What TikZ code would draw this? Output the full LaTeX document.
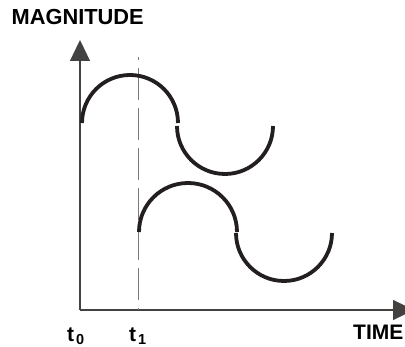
\documentclass[tikz,border=0pt]{standalone}
\usepackage{fontspec}
\setmainfont{Liberation Sans}
\usepackage{xcolor}
\usetikzlibrary{arrows.meta}
\definecolor{ink}{HTML}{231F20}
\tikzset{axis/.style={line width=1.2pt,draw=ink!85,-{Triangle[width=20pt,length=21pt]}},
  wave/.style={line width=3.8pt,draw=ink},mark1/.style={line width=1pt,draw=ink!60,dash pattern=on 32pt off 8pt,dash phase=29pt},
  lbl/.style={inner sep=0pt,anchor=base west,font=\fontsize{21}{21}\selectfont\bfseries}}
\newcommand{\tsub}[1]{t\hspace{2pt}\raisebox{-3.3pt}{\fontsize{14.5}{14.5}\selectfont\bfseries #1}}

\begin{document}
\begin{tikzpicture}[x=1pt,y=1pt]
\useasboundingbox (0,0) rectangle (405,347);
\coordinate (o) at (80,37); \coordinate (ytip) at (80,307); \coordinate (xtip) at (414,37);
\coordinate (t1top) at (138,290); \coordinate (t1bot) at (138,37);
\draw[axis] (o) -- (ytip); \draw[axis] (o) -- (xtip);
\draw[mark1] (t1top) -- (t1bot);
\draw[wave] (82,224) arc[start angle=180,end angle=0,radius=48]; \draw[wave] (177,221) arc[start angle=180,end angle=360,radius=48];
\draw[wave] (139,115) arc[start angle=180,end angle=0,radius=49]; \draw[wave] (236,114) arc[start angle=180,end angle=360,radius=48];
\node[lbl,font=\fontsize{21.8}{21.8}\selectfont\bfseries] (mag) at (11.5,322) {MAGNITUDE};
\node[lbl,font=\fontsize{21}{21}\selectfont\bfseries] (t0) at (67,5.3) {\tsub{0}}; \node[lbl,font=\fontsize{21}{21}\selectfont\bfseries] (t1) at (129,5.3) {\tsub{1}};
\node[lbl] (time) at (353,7) {TIME};
\end{tikzpicture}
\end{document}
